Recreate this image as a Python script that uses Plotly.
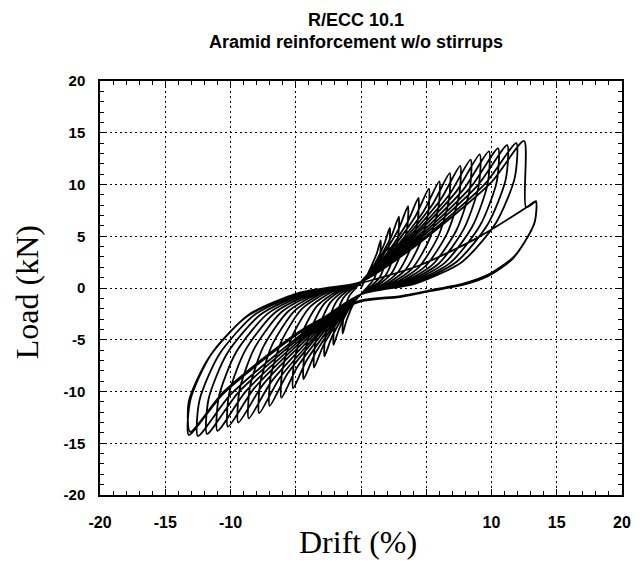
import plotly.graph_objects as go

# Drift (%) history: cycle by cycle (positive half, negative half)
drift = [
    0,
    0.53, 1.20, 1.50, 1.49, 1.31, 0.98, 0.53, 0, -0.49, -1.12, -1.40, -1.39, -1.22, -0.91, -0.49, 0,
    0.77, 1.76, 2.20, 2.18, 1.91, 1.43, 0.77, 0, -0.74, -1.68, -2.10, -2.08, -1.83, -1.37, -0.74, 0,
    1.02, 2.32, 2.90, 2.87, 2.52, 1.89, 1.02, 0, -0.98, -2.24, -2.80, -2.77, -2.44, -1.82, -0.98, 0,
    1.26, 2.88, 3.60, 3.56, 3.13, 2.34, 1.26, 0, -1.26, -2.88, -3.60, -3.56, -3.13, -2.34, -1.26, 0,
    1.54, 3.52, 4.40, 4.36, 3.83, 2.86, 1.54, 0, -1.54, -3.52, -4.40, -4.36, -3.83, -2.86, -1.54, 0,
    1.82, 4.16, 5.20, 5.15, 4.52, 3.38, 1.82, 0, -1.82, -4.16, -5.20, -5.15, -4.52, -3.38, -1.82, 0,
    2.10, 4.80, 6.00, 5.94, 5.22, 3.90, 2.10, 0, -2.14, -4.88, -6.10, -6.04, -5.31, -3.97, -2.14, 0,
    2.38, 5.44, 6.80, 6.73, 5.92, 4.42, 2.38, 0, -2.45, -5.60, -7.00, -6.93, -6.09, -4.55, -2.45, 0,
    2.66, 6.08, 7.60, 7.52, 6.61, 4.94, 2.66, 0, -2.73, -6.24, -7.80, -7.72, -6.79, -5.07, -2.73, 0,
    2.94, 6.72, 8.40, 8.32, 7.31, 5.46, 2.94, 0, -3.01, -6.88, -8.60, -8.51, -7.48, -5.59, -3.01, 0,
    3.19, 7.28, 9.10, 9.01, 7.92, 5.92, 3.19, 0, -3.29, -7.52, -9.40, -9.31, -8.18, -6.11, -3.29, 0,
    3.43, 7.84, 9.80, 9.70, 8.53, 6.37, 3.43, 0, -3.57, -8.16, -10.20, -10.10, -8.87, -6.63, -3.57, 0,
    3.68, 8.40, 10.50, 10.40, 9.14, 6.83, 3.68, 0, -3.85, -8.80, -11.00, -10.89, -9.57, -7.15, -3.85, 0,
    3.92, 8.96, 11.20, 11.09, 9.74, 7.28, 3.92, 0, -4.13, -9.44, -11.80, -11.68, -10.27, -7.67, -4.13, 0,
    4.17, 9.52, 11.90, 11.78, 10.35, 7.74, 4.17, 0, -4.38, -10.00, -12.50, -12.38, -10.88, -8.13, -4.38, 0,
    4.38, 10.00, 12.50, 12.65, 13.40, 13.35, 12.90, 11.70, 9.90, 7.90, 5.40, 2.90, 0,
    -4.62, -10.56, -13.20, -13.07, -11.48, -8.58, -4.62, 0,
    4.50, 8.70, 12.70, 13.40, 13.32, 12.80, 11.60, 9.80, 7.80, 5.30, 2.80, 0,
    -4.60, -10.50, -13.10, -13.20, -11.70, -8.80, -4.80, 0,
]

# Load (kN) history, same order
load = [
    0,
    1.38, 3.31, 4.60, 3.50, 2.07, 0.83, 0.14, -0.6, -1.32, -3.17, -4.40, -3.34, -1.98, -0.79, -0.13, 0.6,
    1.74, 4.18, 5.80, 4.41, 2.61, 1.04, 0.17, -0.6, -1.65, -3.96, -5.50, -4.18, -2.48, -0.99, -0.17, 0.6,
    2.07, 4.97, 6.90, 5.24, 3.11, 1.24, 0.21, -0.6, -1.98, -4.75, -6.60, -5.02, -2.97, -1.19, -0.20, 0.6,
    2.37, 5.69, 7.90, 6.00, 3.56, 1.42, 0.24, -0.6, -2.31, -5.54, -7.70, -5.85, -3.47, -1.39, -0.23, 0.6,
    2.61, 6.26, 8.70, 6.61, 3.92, 1.57, 0.26, -0.6, -2.64, -6.34, -8.80, -6.69, -3.96, -1.58, -0.26, 0.6,
    2.88, 6.91, 9.60, 7.30, 4.32, 1.73, 0.29, -0.6, -2.91, -6.98, -9.70, -7.37, -4.37, -1.75, -0.29, 0.6,
    3.09, 7.42, 10.30, 7.83, 4.64, 1.85, 0.31, -0.6, -3.18, -7.63, -10.60, -8.06, -4.77, -1.91, -0.32, 0.6,
    3.33, 7.99, 11.10, 8.44, 5.00, 2.00, 0.33, -0.6, -3.42, -8.21, -11.40, -8.66, -5.13, -2.05, -0.34, 0.6,
    3.54, 8.50, 11.80, 8.97, 5.31, 2.12, 0.35, -0.6, -3.63, -8.71, -12.10, -9.20, -5.45, -2.18, -0.36, 0.6,
    3.72, 8.93, 12.40, 9.42, 5.58, 2.23, 0.37, -0.6, -3.78, -9.07, -12.60, -9.58, -5.67, -2.27, -0.38, 0.6,
    3.87, 9.29, 12.90, 9.80, 5.81, 2.32, 0.39, -0.6, -3.90, -9.36, -13.00, -9.88, -5.85, -2.34, -0.39, 0.6,
    3.96, 9.50, 13.20, 10.03, 5.94, 2.38, 0.40, -0.6, -4.02, -9.65, -13.40, -10.18, -6.03, -2.41, -0.40, 0.6,
    4.05, 9.72, 13.50, 10.26, 6.08, 2.43, 0.41, -0.6, -4.14, -9.94, -13.80, -10.49, -6.21, -2.48, -0.41, 0.6,
    4.14, 9.94, 13.80, 10.49, 6.21, 2.48, 0.41, -0.6, -4.23, -10.15, -14.10, -10.72, -6.35, -2.54, -0.42, 0.6,
    4.20, 10.08, 14.00, 10.64, 6.30, 2.52, 0.42, -0.6, -4.29, -10.30, -14.30, -10.87, -6.44, -2.57, -0.43, 0.6,
    4.26, 10.22, 14.20, 7.80, 8.30, 6.60, 5.20, 3.00, 1.40, 0.45, -0.20, -0.80, -1.20,
    -4.26, -10.22, -14.20, -10.79, -6.39, -2.56, -0.43, 0.5,
    2.20, 4.70, 7.80, 8.40, 6.40, 5.00, 2.80, 1.20, 0.30, -0.30, -0.90, -1.30,
    -4.10, -10.00, -13.90, -11.00, -6.80, -2.80, -0.50, 0.3,
]

x_tickvals = [-20, -15, -10, -5, 0, 5, 10, 15, 20]
x_ticktext = ["-20", "-15", "-10", "", "", "", "10", "15", "20"]
y_tickvals = [-20, -15, -10, -5, 0, 5, 10, 15, 20]
y_ticktext = ["-20", "-15", "-10", "-5", "0", "5", "10", "15", "20"]

title_line1 = "R/ECC 10.1"
title_line2 = "Aramid reinforcement w/o stirrups"
x_title = "Drift (%)"
y_title = "Load (kN)"

fig = go.Figure()
fig.add_trace(go.Scatter(
    x=drift, y=load, mode="lines",
    line=dict(color="black", width=1.8, shape="spline", smoothing=0.7),
    hoverinfo="skip", showlegend=False,
))

common = dict(
    tickmode="array", ticks="inside", ticklen=6, tickwidth=1, tickcolor="black",
    showline=True, linecolor="black", linewidth=1.5, mirror="ticks",
    showgrid=True, gridcolor="black", gridwidth=1, griddash="2px,3px",
    zeroline=False,
    minor=dict(tickmode="linear", tick0=0, dtick=1, ticks="inside", ticklen=4,
               tickwidth=1, tickcolor="black", showgrid=False),
)

fig.update_layout(
    width=642, height=563,
    margin=dict(l=100, r=11, t=81, b=68),
    paper_bgcolor="white", plot_bgcolor="white",
    xaxis=dict(range=[-20, 20], tickvals=x_tickvals, ticktext=x_ticktext,
               ticklabelstandoff=12,
               tickfont=dict(family="Liberation Sans", size=16, color="black", weight="bold"),
               **common),
    yaxis=dict(range=[-20, 20], tickvals=y_tickvals, ticktext=y_ticktext,
               ticklabelstandoff=10,
               tickfont=dict(family="Liberation Sans", size=15, color="black", weight="bold"),
               **common),
    annotations=[
        dict(text=title_line1, xref="paper", yref="paper",
             x=(360 - 100) / 531, y=(495 - 20) / 414, xanchor="center", yanchor="middle",
             showarrow=False, font=dict(family="Liberation Sans", size=18, color="black", weight="bold")),
        dict(text=title_line2, xref="paper", yref="paper",
             x=(360 - 100) / 531, y=(495 - 42) / 414, xanchor="center", yanchor="middle",
             showarrow=False, font=dict(family="Liberation Sans", size=18, color="black", weight="bold")),
        dict(text=x_title, xref="paper", yref="paper",
             x=(362 - 100) / 531, y=(495 - 542) / 414, xanchor="center", yanchor="middle",
             showarrow=False, font=dict(family="Liberation Serif", size=32, color="black")),
        dict(text=y_title, xref="paper", yref="paper",
             x=(26 - 100) / 531, y=(495 - 292) / 414, xanchor="center", yanchor="middle",
             textangle=-90, showarrow=False,
             font=dict(family="Liberation Serif", size=32, color="black")),
    ],
)

fig.write_html("out.html")
